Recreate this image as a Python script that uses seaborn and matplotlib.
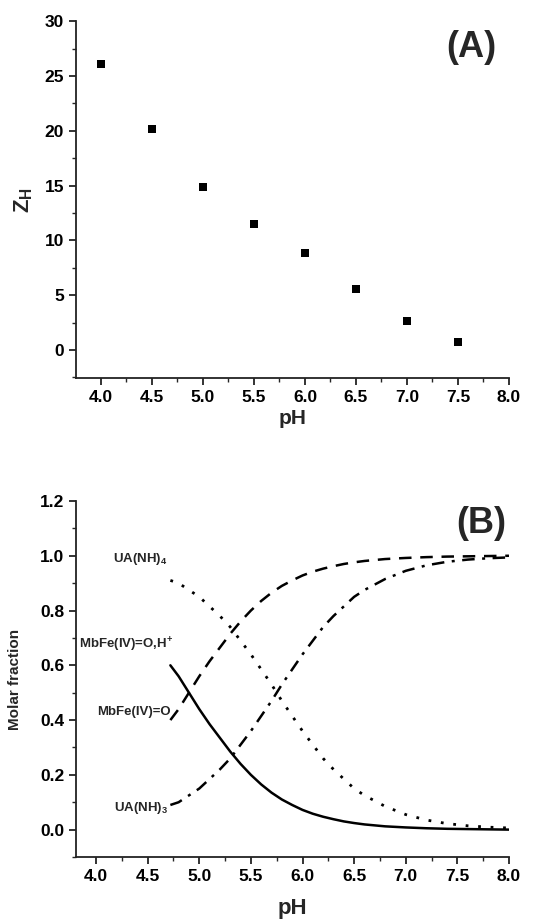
import numpy as np
import pandas as pd
import matplotlib
matplotlib.use("Agg")
import matplotlib.pyplot as plt
from matplotlib.ticker import MultipleLocator, FormatStrFormatter
import seaborn as sns

# panel A: charge vs pH
ph_a = [4.0, 4.5, 5.0, 5.5, 6.0, 6.5, 7.0, 7.5]
z_h = [26.1, 20.2, 14.9, 11.5, 8.85, 5.6, 2.6, 0.7]

# panel B: molar fractions
ph_b = [4.72, 4.8, 4.9, 5.0, 5.1, 5.2, 5.3, 5.4, 5.5, 5.6, 5.7, 5.8, 5.9, 6.0,
        6.1, 6.2, 6.3, 6.4, 6.5, 6.6, 6.8, 7.0, 7.2, 7.4, 7.6, 7.8, 8.0]
mbfe_oh = [0.60, 0.56, 0.50, 0.44, 0.385, 0.335, 0.285, 0.24, 0.20, 0.165,
           0.135, 0.11, 0.09, 0.072, 0.058, 0.047, 0.038, 0.03, 0.024, 0.019,
           0.012, 0.008, 0.005, 0.003, 0.002, 0.001, 0.0]
mbfe_o = [0.40, 0.44, 0.50, 0.56, 0.615, 0.665, 0.715, 0.76, 0.80, 0.835,
          0.865, 0.89, 0.91, 0.928, 0.942, 0.953, 0.962, 0.97, 0.976, 0.981,
          0.988, 0.992, 0.995, 0.997, 0.998, 0.999, 1.0]
ua_nh3 = [0.09, 0.10, 0.125, 0.15, 0.185, 0.22, 0.26, 0.31, 0.36, 0.415, 0.47,
          0.53, 0.585, 0.64, 0.69, 0.74, 0.78, 0.815, 0.85, 0.875, 0.915,
          0.945, 0.965, 0.978, 0.986, 0.991, 0.994]
ua_nh4 = [0.91, 0.90, 0.875, 0.85, 0.815, 0.78, 0.74, 0.69, 0.64, 0.585, 0.53,
          0.47, 0.415, 0.36, 0.31, 0.26, 0.22, 0.185, 0.15, 0.125, 0.085,
          0.055, 0.035, 0.022, 0.014, 0.009, 0.006]

sns.set_style("ticks")
plt.rcParams['font.family'] = ['Liberation Sans', 'DejaVu Sans']
plt.rcParams['font.weight'] = 'bold'
plt.rcParams['axes.labelweight'] = 'bold'
plt.rcParams['mathtext.fontset'] = 'custom'
plt.rcParams['mathtext.rm'] = 'Liberation Sans:bold'
plt.rcParams['mathtext.bf'] = 'Liberation Sans:bold'

fig = plt.figure(figsize=(5.36, 9.24), dpi=100)
ax1 = fig.add_axes([0.1418, 0.591, 0.8078, 0.386])
ax2 = fig.add_axes([0.1418, 0.0725, 0.8078, 0.3853])


def style_axes(ax):
    sns.despine(ax=ax)
    for s in ['left', 'bottom']:
        ax.spines[s].set_linewidth(1.3)
        ax.spines[s].set_color('#222222')
    ax.tick_params(which='major', direction='out', length=5, width=1.2,
                   labelsize=12.5, colors='#111111', labelcolor='black')
    ax.tick_params(which='minor', direction='out', length=3, width=1.0)
    for lab in ax.get_xticklabels() + ax.get_yticklabels():
        lab.set_fontweight('bold')


# Panel A
sns.scatterplot(x=ph_a, y=z_h, marker='s', s=38, color='black',
                edgecolor='black', linewidth=0, ax=ax1)
ax1.set_xlim(3.755, 8.0)
ax1.set_ylim(-2.55, 30)
ax1.xaxis.set_major_locator(MultipleLocator(0.5))
ax1.xaxis.set_minor_locator(MultipleLocator(0.25))
ax1.yaxis.set_major_locator(MultipleLocator(5))
ax1.yaxis.set_minor_locator(MultipleLocator(2.5))
ax1.xaxis.set_major_formatter(FormatStrFormatter('%.1f'))
ax1.set_xlabel('pH', fontsize=15, fontweight='bold', labelpad=3)
ax1.set_ylabel('Z$_\\mathbf{H}$', fontsize=16, fontweight='bold', labelpad=7)
style_axes(ax1)
ax1.text(0.913, 0.927, '(A)', transform=ax1.transAxes, fontsize=26,
         fontweight='bold', ha='center', va='center')

# Panel B
lines = pd.DataFrame({'pH': ph_b, 'oh': mbfe_oh, 'o': mbfe_o,
                      'nh3': ua_nh3, 'nh4': ua_nh4})
sns.lineplot(data=lines, x='pH', y='oh', color='black', lw=1.8, ax=ax2)
sns.lineplot(data=lines, x='pH', y='o', color='black', lw=1.8,
             ax=ax2).lines[-1].set_dashes([5, 3.5])
sns.lineplot(data=lines, x='pH', y='nh3', color='black', lw=1.8,
             ax=ax2).lines[-1].set_dashes([5, 3, 1.2, 3])
sns.lineplot(data=lines, x='pH', y='nh4', color='black', lw=2.0,
             ax=ax2).lines[-1].set_dashes([1, 3.5])
ax2.set_xlim(3.806, 8.0)
ax2.set_ylim(-0.1, 1.2)
ax2.xaxis.set_major_locator(MultipleLocator(0.5))
ax2.xaxis.set_minor_locator(MultipleLocator(0.25))
ax2.yaxis.set_major_locator(MultipleLocator(0.2))
ax2.yaxis.set_minor_locator(MultipleLocator(0.1))
ax2.xaxis.set_major_formatter(FormatStrFormatter('%.1f'))
ax2.yaxis.set_major_formatter(FormatStrFormatter('%.1f'))
ax2.set_xlabel('pH', fontsize=16, fontweight='bold', labelpad=10)
ax2.set_ylabel('Molar fraction', fontsize=11, fontweight='bold', labelpad=13)
style_axes(ax2)
ax2.text(0.937, 0.938, '(B)', transform=ax2.transAxes, fontsize=26,
         fontweight='bold', ha='center', va='center')

lab_kw = dict(fontsize=9.5, fontweight='bold', ha='right', va='center')
ax2.text(4.69, 0.99, 'UA(NH)$_\\mathbf{4}$', **lab_kw)
ax2.text(4.75, 0.675, 'MbFe(IV)=O,H$^\\mathbf{+}$', **lab_kw)
ax2.text(4.72, 0.43, 'MbFe(IV)=O', **lab_kw)
ax2.text(4.70, 0.08, 'UA(NH)$_\\mathbf{3}$', **lab_kw)

fig.savefig('out.png', dpi=100)
